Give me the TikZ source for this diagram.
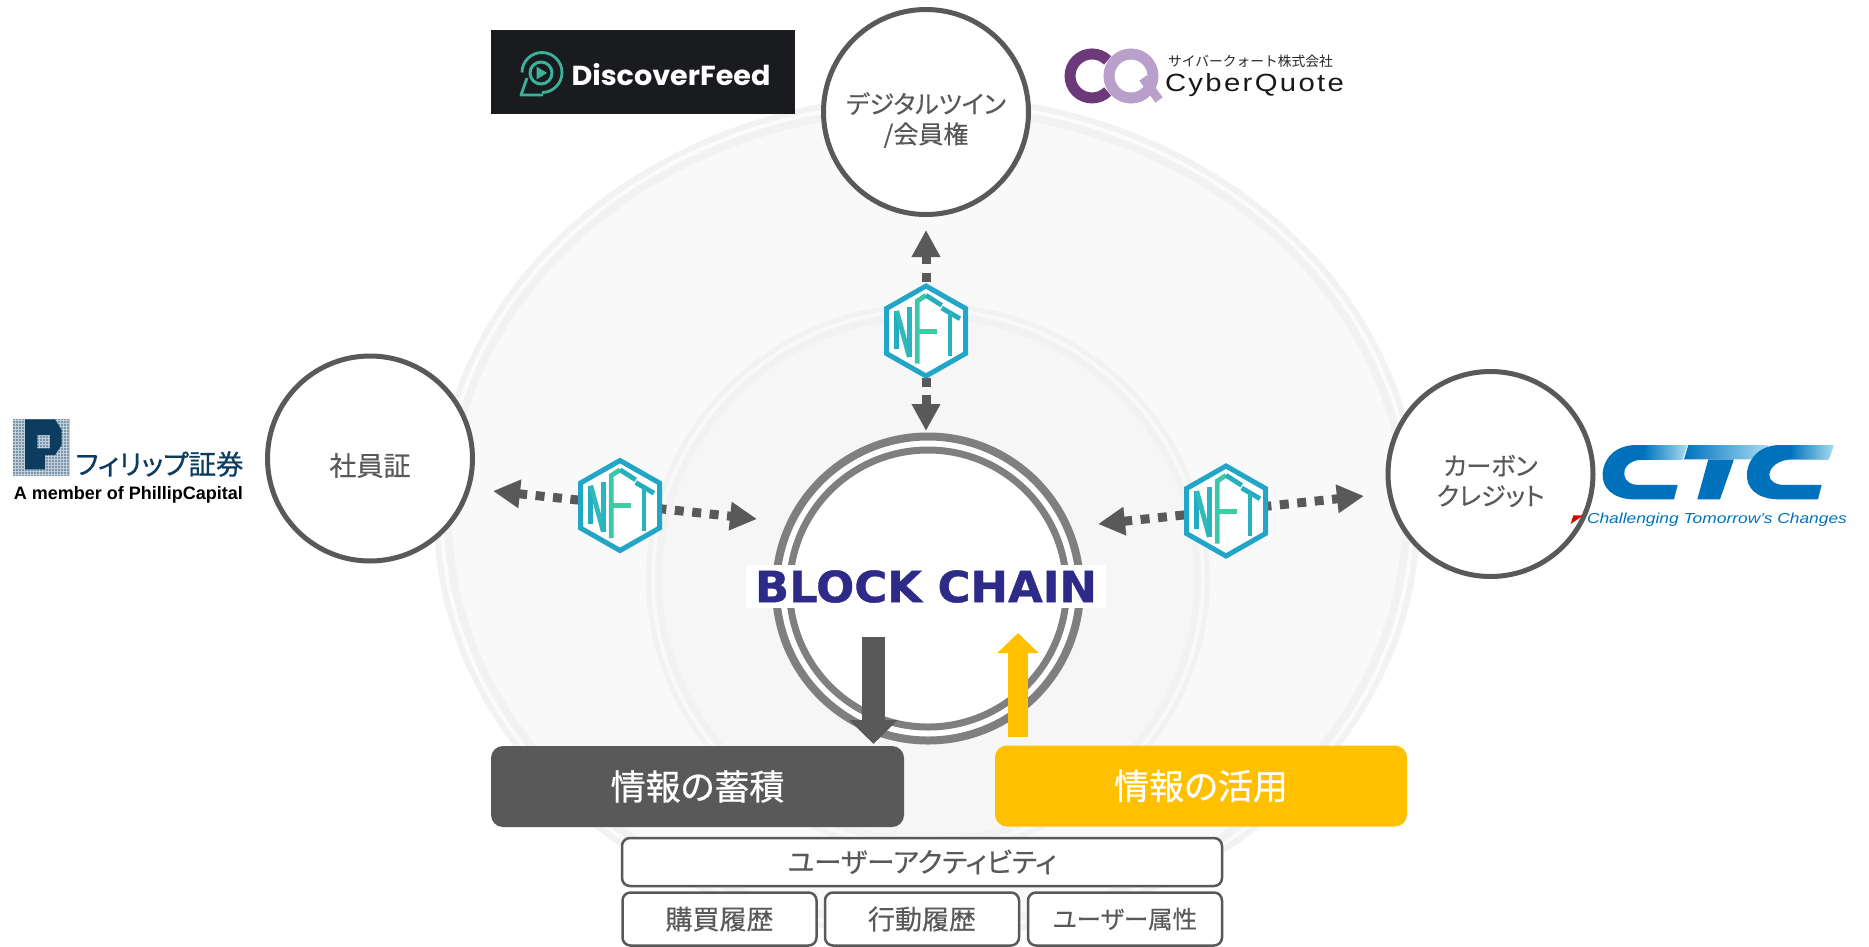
\documentclass[tikz,border=0pt]{standalone}
\usepackage{fontspec}
\usepackage{graphicx}
\usetikzlibrary{arrows.meta}
\setmainfont{Liberation Sans}
\newfontfamily\jp[RawFeature=+palt,FakeBold=0.35]{Noto Sans CJK JP}
\newfontfamily\jpb[RawFeature=+palt,FakeBold=0.7]{Noto Sans CJK JP}
\newfontfamily\jpmono{Noto Sans CJK JP}
\newfontfamily\popp{Poppins}
\newfontfamily\bcf[BoldFeatures={FakeBold=0.8}]{DejaVu Sans}
\newfontfamily\cqf[LetterSpace=8]{Liberation Sans}
\newcommand{\setfs}[2]{\fontsize{#1}{#2}\selectfont}
\definecolor{dgray}{HTML}{595959}
\definecolor{amber}{HTML}{FFC000}
\definecolor{ringband}{HTML}{F2F2F2}
\definecolor{ringfill}{HTML}{F9F9F9}
\definecolor{hubgray}{HTML}{7F7F7F}
\definecolor{bcblue}{HTML}{2E2A87}
\definecolor{nfthex}{HTML}{22A6C8}
\definecolor{ctcblue}{HTML}{0072BC}
\definecolor{ctclight}{HTML}{A8DCF2}
\definecolor{pblue}{HTML}{0D3C61}
\definecolor{teal}{HTML}{3BB39A}
\definecolor{cqdark}{HTML}{6C3A78}
\definecolor{cqlight}{HTML}{B9A0CB}
\tikzset{
  ring/.style={draw=none,fill=#1},
  topic/.style={circle,draw=dgray,line width=5pt,fill=white,minimum size=205pt,inner sep=0pt,outer sep=0pt},
  topictext/.style={inner sep=0pt,align=center,text=dgray,font=\jp\setfs{25}{30}},
  banner/.style={rounded corners=12pt,minimum height=81pt,text=white,inner sep=0pt,font=\jpb\setfs{35}{40}},
  tagbox/.style={draw=dgray,line width=2.5pt,fill=white,rounded corners=8pt,inner sep=0pt,text=dgray,font=\jp\setfs{27}{30}},
  dotlink/.style={draw=dgray,line width=9pt,dash pattern=on 9pt off 8.5pt,{Triangle[length=27pt,width=27pt]}-{Triangle[length=27pt,width=27pt]}},
  nfticon/.pic={
    \draw[draw=nfthex,fill=white,line width=5pt,line join=miter] (0,-45)--(39.5,-22.5)--(39.5,22.5)--(0,45)--(-39.5,22.5)--(-39.5,-22.5)--cycle;
    \begin{scope}[line width=4.8pt,line cap=butt,line join=miter]
      \draw[color={rgb,255:red,35;green,170;blue,196}] (-29.3,18)--(-29.3,-20);
      \draw[color={rgb,255:red,46;green,186;blue,184}] (-29.3,-20)--(-16.7,26);
      \draw[color={rgb,255:red,42;green,180;blue,190}] (-16.7,26)--(-16.7,-24);
      \draw[color={rgb,255:red,60;green,200;blue,168}] (-8.7,32.7)--(-8.7,-30)--(0,-35.7);
      \draw[color={rgb,255:red,60;green,205;blue,165}] (-8.7,.3)--(11.3,.3);
      \draw[color={rgb,255:red,40;green,175;blue,190}] (0,-35.7)--(15.7,-25.7);
      \draw[color={rgb,255:red,36;green,172;blue,194}] (15.7,-23)--(34,-12.3);
      \draw[color={rgb,255:red,40;green,180;blue,186}] (24,-18)--(24,25.3);
    \end{scope}
  }
}
\begin{document}
\begin{tikzpicture}[x=1pt,y=-1pt]
\useasboundingbox (0,0) rectangle (1869,946);

% background rings
\fill[ring=ringband] (927,516) ellipse [x radius=493,y radius=422];
\fill[ring=white!40!ringfill] (927,516) ellipse [x radius=487,y radius=416];
\fill[ring=ringband] (927,516) ellipse [x radius=483,y radius=412];
\fill[ring=ringfill] (927,516) ellipse [x radius=475,y radius=404];
\fill[ring=ringband] (928,578) ellipse [x radius=282,y radius=275];
\fill[ring=ringfill] (928,578) ellipse [x radius=277,y radius=270];
\fill[ring=ringband] (928,578) ellipse [x radius=273,y radius=266];
\fill[ring=ringfill!60!ringband] (928,578) ellipse [x radius=266,y radius=259];

% hub
\node[circle,draw=hubgray,line width=8pt,fill=white,minimum size=304pt,inner sep=0pt,outer sep=0pt] (hubout) at (928,588.5) {};
\node[circle,draw=hubgray,line width=7pt,fill=white,minimum size=277pt,inner sep=0pt,outer sep=0pt] (hubin) at (928,588.5) {};
\node[fill=white,minimum width=360pt,minimum height=43pt,inner sep=0pt] (bc) at (926,586.5)
  {\textcolor{bcblue}{\raisebox{-2pt}{\resizebox{342pt}{32pt}{\bcf\bfseries BLOCK CHAIN}}}};

% banners
\node[banner,fill=dgray,minimum width=413pt] (store) at (697.5,786.5) {情報の蓄積};
\node[banner,fill=amber,minimum width=412pt] (use) at (1201,786) {情報の活用};

% block arrows
\coordinate (storefrom) at (873.5,637);
\coordinate (storeto) at (873.5,744);
\coordinate (usefrom) at (1018,737);
\coordinate (useto) at (1018,633);
\draw[dgray,line width=23pt,-{Triangle[length=24pt,width=47pt]}] (storefrom) -- (storeto);
\draw[amber,line width=20pt,-{Triangle[length=20pt,width=40pt]}] (usefrom) -- (useto);

% tag boxes
\node[tagbox,minimum width=600pt,minimum height=48pt] (activity) at (922,862) {\setfs{27.5}{30}ユーザーアクティビティ};
\node[tagbox,minimum width=194pt,minimum height=53pt] (buy) at (719.5,919) {購買履歴};
\node[tagbox,minimum width=194pt,minimum height=53pt] (act) at (922,919) {行動履歴};
\node[tagbox,minimum width=194pt,minimum height=53pt] (attr) at (1125,919) {\setfs{24.5}{30}ユーザー属性};

% topic circles
\node[topic] (staff) at (370,458.5) {};
\node[topic] (twin) at (926,112) {};
\node[topic] (carbon) at (1490.5,474) {};
\node[topictext,font=\jp\setfs{27}{30}] (stafftext) at ([yshift=-7pt]staff.center) {社員証};
\node[topictext] (twintext) at ([yshift=-8pt]twin.center) {デジタルツイン\\/会員権};
\node[topictext] (carbontext) at ([yshift=-7pt]carbon.center) {カーボン\\クレジット};

% dotted links
\coordinate (l1) at (493,491);
\coordinate (l2) at (757,519);
\coordinate (r1) at (1098,524);
\coordinate (r2) at (1364,496);
\coordinate (t1) at (926,230);
\coordinate (t2) at (926,431);
\draw[dotlink] (l1) -- (l2);
\draw[dotlink] (r1) -- (r2);
\draw[dotlink] (t1) -- (t2);

% NFT badges
\pic at (620,505.5) {nfticon};
\pic at (1226,511) {nfticon};
\pic at (926,331) {nfticon};

% DiscoverFeed logo
\fill[color={rgb,255:red,26;green,27;blue,31}] (491,30) rectangle (795,114);
\begin{scope}[teal,line width=2.8pt]
  \draw (542,92.5) arc[start angle=90,end angle=-180,x radius=20,y radius=20];
  \draw[line join=round] (527,78) -- (521,95) -- (543,95);
  \draw[line width=3pt] (541,73) circle (11);
  \fill (536.5,66.5) -- (547,73) -- (536.5,79.5) -- cycle;
\end{scope}
\node[inner sep=0pt,text=white] (dftext) at (671,75) {\resizebox{199pt}{22pt}{\popp\bfseries DiscoverFeed}};

% CyberQuote logo
\draw[cqdark,line width=11pt] (1107.6,60.4) arc[start angle=-45,end angle=-315,radius=22];
\draw[cqlight,line width=11pt] (1131,76) circle (22);
\draw[cqlight,line width=9pt] (1143,78) -- (1159,100);
\node[inner sep=0pt,text=black!85] (cqjp) at (1250.5,61) {\resizebox{165pt}{!}{\jpmono\setfs{14}{16}サイバークォート株式会社}};
\node[inner sep=0pt,text=black!90] (cqen) at (1254.5,85.5) {\resizebox{179pt}{18pt}{\cqf CyberQuote}};

% Phillip logo
\fill[color={rgb,255:red,120;green,150;blue,172}] (13,419) rectangle (70,476);
\draw[white!75!pblue,line width=.8pt,step=3pt] (13,419) grid (70,476);
\fill[pblue,even odd rule] (25,419.3) -- (55,419.3) -- (61.7,430) -- (61.7,445) -- (55,455) -- (45,455) -- (45,469.3) -- (25,469.3) -- cycle
  (37.3,435) rectangle (50,448.3);
\node[inner sep=0pt,text=pblue] (phjp) at (159.5,464) {\resizebox{168pt}{!}{\jpb\setfs{25}{28}フィリップ証券}};
\node[inner sep=0pt,text=black] (phen) at (128.5,495) {\resizebox{229pt}{!}{\bfseries A member of PhillipCapital}};

% CTC logo
\begin{scope}[shift={(1380,360)},x=.3333pt,y=-.3333pt]
  \fill[ctcblue] (905,300) -- (775,300) .. controls (745,305) and (730,325) .. (733,345) .. controls (735,365) and (755,375) .. (775,375) -- (893,375) -- (882,418) -- (755,418) .. controls (700,415) and (665,385) .. (668,340) .. controls (672,290) and (710,255) .. (770,255) -- (905,255) -- cycle;
  \shade[left color=ctcblue,right color=ctclight] (800,255) -- (922,255) -- (907,300) -- (790,300) -- cycle;
  \fill[ctcblue] (985,298) -- (1062,298) -- (1020,418) -- (952,418) -- cycle;
  \shade[left color=ctcblue,right color=ctclight] (925,255) -- (1165,255) -- (1150,298) -- (912,298) -- cycle;
  \fill[ctcblue] (1345,298) -- (1235,298) .. controls (1195,300) and (1170,320) .. (1168,345) .. controls (1168,365) and (1190,375) .. (1215,375) -- (1325,375) -- (1314,418) -- (1190,418) .. controls (1130,415) and (1098,385) .. (1101,340) .. controls (1105,290) and (1145,255) .. (1200,255) -- (1345,255) -- cycle;
  \shade[left color=ctcblue,right color=ctclight] (1240,255) -- (1362,255) -- (1347,298) -- (1230,298) -- cycle;
  \fill[red!85!black] (572,492) -- (580,466) -- (610,466) -- cycle;
\end{scope}
\node[inner sep=0pt,text=ctcblue] (ctctext) at (1717,520) {\resizebox{260pt}{10.5pt}{\itshape Challenging Tomorrow's Changes}};
\end{tikzpicture}
\end{document}
